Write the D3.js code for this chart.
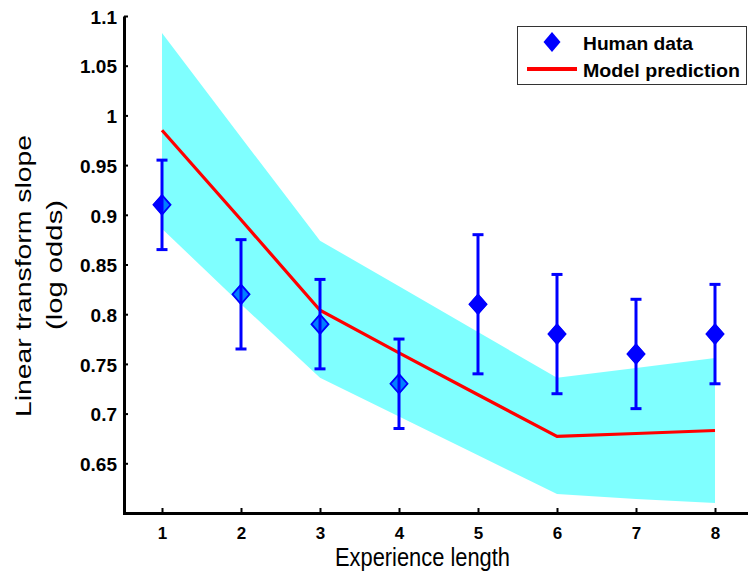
<!DOCTYPE html>
<html>
<head>
<meta charset="utf-8">
<script src="https://cdn.jsdelivr.net/npm/d3@7"></script>
<style>
	body { margin: 0; background: #fff; }
	#main { width: 748px; height: 577px; }
	text { font-family: "Liberation Sans", Arial, sans-serif; fill: #000; }
</style>
</head>
<body>
<div id="main"></div>
<script>

// experience length (x) and values
var lengths = [1, 2, 3, 4, 5, 6, 7, 8]
var human = [0.91, 0.82, 0.79, 0.73, 0.81, 0.78, 0.76, 0.78]
var humanLow = [0.865, 0.765, 0.745, 0.685, 0.74, 0.72, 0.705, 0.73]
var humanHigh = [0.955, 0.875, 0.835, 0.775, 0.88, 0.84, 0.815, 0.83]
var model = [0.985, 0.895, 0.804, 0.761, 0.719, 0.677, 0.680, 0.683]
var bandLow = [0.886, 0.810, 0.736, 0.697, 0.658, 0.619, 0.614, 0.610]
var bandHigh = [1.083, 0.978, 0.874, 0.828, 0.782, 0.736, 0.746, 0.756]

var yTicks = [0.65, 0.7, 0.75, 0.8, 0.85, 0.9, 0.95, 1, 1.05, 1.1]
var yTickLabels = ["0.65", "0.7", "0.75", "0.8", "0.85", "0.9", "0.95", "1", "1.05", "1.1"]
var xTicks = [1, 2, 3, 4, 5, 6, 7, 8]

var seriesNames = ["Human data", "Model prediction"]

var w = 748,
	h = 577

var x = d3.scaleLinear()
	.domain([0.5, 8.5])
	.range([122.5, 754.5])

var y = d3.scaleLinear()
	.domain([0.6, 1.1])
	.range([513, 16])

var svg = d3.select("#main")
	.append("svg")
	.attr("width", w)
	.attr("height", h)

var rows = lengths.map(function(d, i) {
	return { x: d, v: human[i], lo: humanLow[i], hi: humanHigh[i],
		m: model[i], bl: bandLow[i], bh: bandHigh[i] }
})

// diamond marker shape around a point
function diamond(cx, cy, hw, hh) {
	return "M" + cx + "," + (cy - hh) + "L" + (cx + hw) + "," + cy +
		"L" + cx + "," + (cy + hh) + "L" + (cx - hw) + "," + cy + "Z"
}

// diamond fills sit under the translucent band
svg.selectAll(".dfill")
	.data(rows)
	.enter().append("path")
	.attr("class", "dfill")
	.attr("d", function(d) { return diamond(x(d.x), y(d.v), 9.3, 10.5) })
	.attr("fill", "#0000ff")

var area = d3.area()
	.x(function(d) { return x(d.x) })
	.y0(function(d) { return y(d.bl) })
	.y1(function(d) { return y(d.bh) })

svg.append("path")
	.datum(rows)
	.attr("d", area)
	.attr("fill", "#00ffff")
	.attr("fill-opacity", 0.5)

var line = d3.line()
	.x(function(d) { return x(d.x) })
	.y(function(d) { return y(d.m) })

svg.append("path")
	.datum(rows)
	.attr("d", line)
	.attr("fill", "none")
	.attr("stroke", "#ff0000")
	.attr("stroke-width", 3.2)

// error bars
var bars = svg.selectAll(".ebar")
	.data(rows)
	.enter().append("g")
	.attr("class", "ebar")
	.attr("stroke", "#0000ff")
	.attr("stroke-width", 3)

bars.append("line")
	.attr("x1", function(d) { return x(d.x) })
	.attr("x2", function(d) { return x(d.x) })
	.attr("y1", function(d) { return y(d.lo) })
	.attr("y2", function(d) { return y(d.hi) })

bars.append("line")
	.attr("x1", function(d) { return x(d.x) - 5.5 })
	.attr("x2", function(d) { return x(d.x) + 5.5 })
	.attr("y1", function(d) { return y(d.hi) })
	.attr("y2", function(d) { return y(d.hi) })

bars.append("line")
	.attr("x1", function(d) { return x(d.x) - 5.5 })
	.attr("x2", function(d) { return x(d.x) + 5.5 })
	.attr("y1", function(d) { return y(d.lo) })
	.attr("y2", function(d) { return y(d.lo) })

svg.selectAll(".dline")
	.data(rows)
	.enter().append("path")
	.attr("class", "dline")
	.attr("d", function(d) { return diamond(x(d.x), y(d.v), 8.5, 9.7) })
	.attr("fill", "none")
	.attr("stroke", "#0000ff")
	.attr("stroke-width", 1.8)

// axes
var yAxis = d3.axisLeft(y)
	.tickValues(yTicks)
	.tickFormat(function(d, i) { return yTickLabels[i] })
	.tickSizeInner(-4)
	.tickSizeOuter(0)
	.tickPadding(7)

var xAxis = d3.axisBottom(x)
	.tickValues(xTicks)
	.tickFormat(d3.format("d"))
	.tickSizeInner(-5)
	.tickSizeOuter(0)
	.tickPadding(14)

var gy = svg.append("g")
	.attr("transform", "translate(" + 124 + ",0)")
	.call(yAxis)

var gx = svg.append("g")
	.attr("transform", "translate(0," + 513 + ")")
	.call(xAxis)

gy.select(".domain").attr("stroke", "#000").attr("stroke-width", 3)
gx.select(".domain").attr("stroke", "#000").attr("stroke-width", 3)
gy.selectAll(".tick line").attr("stroke", "#000").attr("stroke-width", 2)
gx.selectAll(".tick line").attr("stroke", "#000").attr("stroke-width", 2)

gy.selectAll(".tick text")
	.attr("font-size", "19px")
	.attr("font-weight", "bold")
	.attr("font-family", "Liberation Sans, Arial, sans-serif")
	.attr("dy", "0.38em")

gx.selectAll(".tick text")
	.attr("font-size", "17px")
	.attr("font-weight", "bold")
	.attr("font-family", "Liberation Sans, Arial, sans-serif")

// axis titles (the source figure is stretched a bit vertically)
svg.append("g")
	.attr("transform", "translate(422.5,566) scale(1,1.2)")
	.append("text")
	.attr("text-anchor", "middle")
	.attr("font-size", "22px")
	.attr("textLength", 175)
	.attr("lengthAdjust", "spacingAndGlyphs")
	.text("Experience length")

svg.append("text")
	.attr("transform", "translate(31,276) rotate(-90)")
	.attr("text-anchor", "middle")
	.attr("font-size", "22px")
	.attr("textLength", 282)
	.attr("lengthAdjust", "spacingAndGlyphs")
	.text("Linear transform slope")

svg.append("text")
	.attr("transform", "translate(62,265) rotate(-90)")
	.attr("text-anchor", "middle")
	.attr("font-size", "22px")
	.attr("textLength", 130)
	.attr("lengthAdjust", "spacingAndGlyphs")
	.text("(log odds)")

// legend
var legend = svg.append("g")

legend.append("rect")
	.attr("x", 517.5)
	.attr("y", 26.5)
	.attr("width", 229)
	.attr("height", 58)
	.attr("fill", "#fff")
	.attr("stroke", "#333")
	.attr("stroke-width", 1)

legend.append("path")
	.attr("d", diamond(552, 42, 8.5, 10))
	.attr("fill", "#0000ff")

legend.append("line")
	.attr("x1", 527)
	.attr("x2", 577)
	.attr("y1", 69)
	.attr("y2", 69)
	.attr("stroke", "#ff0000")
	.attr("stroke-width", 4)

var legendWidths = [110, 157]

legend.selectAll(".ltext")
	.data(seriesNames)
	.enter().append("text")
	.attr("class", "ltext")
	.attr("x", 583)
	.attr("y", function(d, i) { return i === 0 ? 50 : 77 })
	.attr("font-size", "18.5px")
	.attr("font-weight", "bold")
	.attr("textLength", function(d, i) { return legendWidths[i] })
	.attr("lengthAdjust", "spacingAndGlyphs")
	.text(function(d) { return d })

</script>
</body>
</html>
